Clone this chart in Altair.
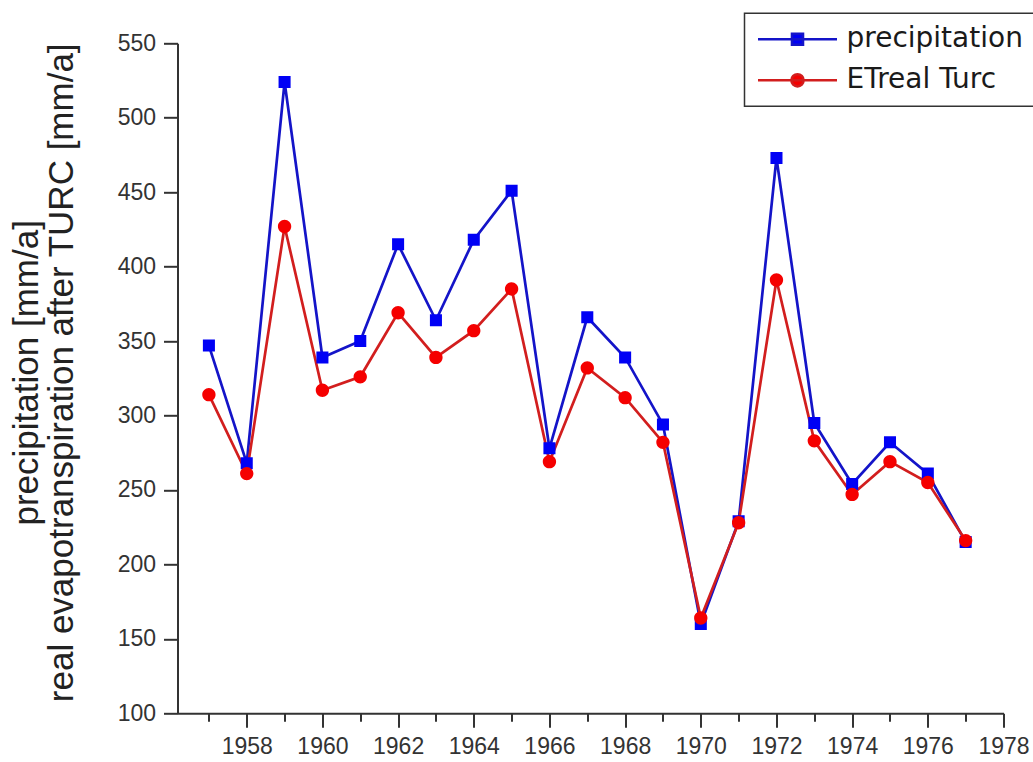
import altair as alt
import pandas as pd

# Annual series, 1957-1977 (mm/a)
years = list(range(1957, 1978))
precipitation = [347, 268, 524, 339, 350, 415, 364, 418, 451, 278, 366,
                 339, 294, 160, 229, 473, 295, 254, 282, 261, 215]
et_real_turc = [314, 261, 427, 317, 326, 369, 339, 357, 385, 269, 332,
                312, 282, 164, 228, 391, 283, 247, 269, 255, 216]

series_names = ["precipitation", "ETreal Turc"]
x_major_ticks = list(range(1958, 1979, 2))
x_minor_ticks = list(range(1957, 1978, 2))
y_ticks = list(range(100, 551, 50))
y_title = ["precipitation [mm/a]", "real evapotranspiration after TURC [mm/a]"]

rows = []
for name, values in zip(series_names, [precipitation, et_real_turc]):
    for yr, v in zip(years, values):
        rows.append({"year": yr, "value": v, "series": name})
df = pd.DataFrame(rows)

LINE_COLORS = ["#1414c8", "#d21e1e"]
MARKER_COLORS = ["#0000f5", "#f50000"]
AXIS_COLOR = "#333333"

# Marker paths: a horizontal stroke (only visible in the legend, where the
# symbols are stroked) plus a filled square / circle.
SQUARE = "M-1,0H1M-0.14,-0.14H0.14V0.14H-0.14Z"
CIRCLE = "M-1,0H1M0.155,0A0.155,0.155 0 1,1 -0.155,0A0.155,0.155 0 1,1 0.155,0Z"

PLOT_W, PLOT_H = 826, 670

x_scale = alt.Scale(domain=[1956.17, 1978], nice=False, zero=False)
y_scale = alt.Scale(domain=[100, 550], nice=False, zero=False)

y_axis = alt.Axis(
    values=y_ticks, title=y_title, grid=False,
    domainColor=AXIS_COLOR, domainWidth=2,
    tickColor=AXIS_COLOR, tickWidth=2, tickSize=14,
    labelPadding=8, labelFont="Liberation Sans", labelFontSize=23,
    labelColor=AXIS_COLOR,
    titleFont="Liberation Sans", titleFontSize=35, titleFontWeight="normal",
    titleColor="#222222", titleAngle=270, titleX=-140, titleY=329,
    titleAlign="center", titleBaseline="alphabetic", titleLineHeight=35,
)

x_axis_major = alt.Axis(
    values=x_major_ticks, format="d", title=None, grid=False, orient="bottom",
    domainColor=AXIS_COLOR, domainWidth=2,
    tickColor=AXIS_COLOR, tickWidth=2, tickSize=14,
    labelPadding=8, labelFont="Liberation Sans", labelFontSize=23,
    labelColor=AXIS_COLOR, labelFlush=False, labelOverlap=False,
)

x_axis_minor = alt.Axis(
    values=x_minor_ticks, labels=False, domain=False, title=None, grid=False,
    orient="bottom", tickColor=AXIS_COLOR, tickWidth=2, tickSize=8,
)

legend = alt.Legend(
    title=None, orient="none", legendX=567, legendY=-30,
    symbolSize=6241, symbolStrokeWidth=2.5, clipHeight=28,
    labelFont="DejaVu Sans", labelFontSize=28, labelColor="#1a1a1a",
    labelOffset=8, labelLimit=400, rowPadding=13, padding=12,
    strokeColor=AXIS_COLOR, fillColor="white",
)

# Line colours keyed in the opposite order so that this scale stays separate
# from the marker scales that carry the legend.
lines = alt.Chart(df).mark_line(strokeWidth=2.7).encode(
    x=alt.X("year:Q", scale=x_scale, axis=x_axis_major),
    y=alt.Y("value:Q", scale=y_scale, axis=y_axis),
    color=alt.Color("series:N",
                    scale=alt.Scale(domain=series_names[::-1], range=LINE_COLORS[::-1]),
                    legend=None),
)

points = alt.Chart(df).mark_point(filled=True, opacity=1, size=7400).encode(
    x=alt.X("year:Q", scale=x_scale, axis=x_axis_minor),
    y=alt.Y("value:Q", scale=y_scale, axis=y_axis),
    fill=alt.Fill("series:N", scale=alt.Scale(domain=series_names, range=MARKER_COLORS),
                  legend=legend),
    stroke=alt.Stroke("series:N", scale=alt.Scale(domain=series_names, range=LINE_COLORS),
                      legend=legend),
    shape=alt.Shape("series:N", scale=alt.Scale(domain=series_names, range=[SQUARE, CIRCLE]),
                    legend=legend),
    strokeWidth=alt.value(0),
)

chart = (
    alt.layer(lines, points)
    .resolve_axis(x="independent")
    .properties(
        width=PLOT_W, height=PLOT_H,
        autosize=alt.AutoSizeParams(type="none"),
        padding={"left": 177.5, "top": 43.3, "right": 29.5, "bottom": 48.7},
        background="white",
    )
    .configure_view(stroke=None)
    .configure_legend(strokeWidth=1.5)
)

chart.save("out.html", embed_options={"renderer": "svg", "actions": False})
